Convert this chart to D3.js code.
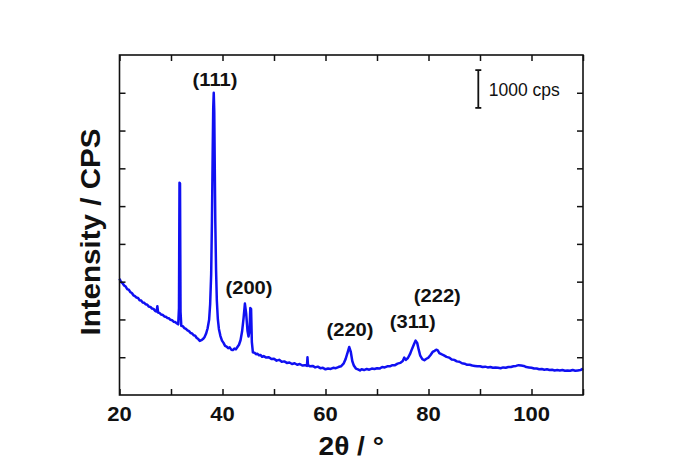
<!DOCTYPE html>
<html>
<head>
<meta charset="utf-8">
<script src="https://cdn.jsdelivr.net/npm/d3@7"></script>
<style>
  html, body { margin: 0; padding: 0; background: #fff; }
  svg { display: block; font-family: "Liberation Sans", Arial, sans-serif; }
</style>
</head>
<body>
<svg id="chart" width="679" height="473"></svg>
<script>
// ---- data ----
const twoTheta = [
 20.0,20.3,20.6,20.9,21.2,21.5,21.8,22.1,22.4,22.7,23.0,23.3,23.6,23.9,24.2,24.5,24.8,25.1,25.4,25.7,
 26.0,26.3,26.6,26.9,27.2,27.35,27.5,27.8,28.1,28.4,28.7,29.0,29.3,29.6,29.9,30.2,30.5,30.8,31.1,31.4,
 31.55,31.65,31.75,31.85,32.0,32.3,32.6,32.9,33.2,33.5,33.8,34.1,34.4,34.7,35.0,35.3,35.6,35.9,36.2,36.5,
 36.8,37.1,37.4,37.6,37.8,37.95,38.1,38.2,38.3,38.4,38.5,38.6,38.75,38.9,39.1,39.3,39.6,39.9,40.2,40.5,
 40.8,41.1,41.4,41.7,42.0,42.3,42.6,42.9,43.2,43.5,43.8,44.1,44.35,44.6,44.85,45.05,45.25,45.4,45.55,45.7,
 45.9,46.2,46.5,46.8,47.1,47.4,47.7,48.0,48.5,49.0,49.5,50.0,50.5,51.0,51.5,52.0,52.5,53.0,53.5,54.0,
 54.5,55.0,55.5,56.0,56.4,56.5,56.6,57.0,57.5,58.0,58.5,59.0,59.5,60.0,60.5,61.0,61.5,62.0,62.5,63.0,
 63.5,63.9,64.3,64.6,64.9,65.2,65.5,65.9,66.3,66.7,67.0,67.5,68.0,68.5,69.0,69.5,70.0,70.5,71.0,71.5,
 72.0,72.5,73.0,73.5,74.0,74.5,75.0,75.3,75.6,76.0,76.4,76.8,77.2,77.5,77.8,78.1,78.4,78.8,79.2,79.6,
 80.0,80.4,80.8,81.2,81.5,81.8,82.1,82.5,83.0,83.5,84.0,84.5,85.0,85.5,86.0,86.5,87.0,87.5,88.0,88.5,
 89.0,89.5,90.0,90.5,91.0,91.5,92.0,92.5,93.0,93.5,94.0,94.5,95.0,95.5,96.0,96.5,97.0,97.5,98.0,98.5,
 99.0,99.5,100.0,100.5,101.0,101.5,102.0,102.5,103.0,103.5,104.0,104.5,105.0,105.5,106.0,106.5,107.0,107.5,108.0,108.5,
 109.0,109.5,110.0
];
const intensity = [
 3080,2990,2960,2900,2870,2800,2790,2720,2700,2640,2620,2580,2570,2510,2500,2450,2440,2400,2390,2340,
 2330,2290,2280,2230,2210,2350,2180,2170,2130,2120,2080,2070,2040,2030,1990,1980,1940,1930,1900,1870,
 2300,5620,5600,2200,1830,1820,1770,1750,1710,1690,1640,1630,1580,1570,1510,1480,1430,1450,1480,1530,
 1620,1760,1990,2400,3200,4600,6500,7600,8000,7500,6000,4600,3300,2500,2000,1750,1560,1440,1380,1300,
 1280,1240,1260,1200,1190,1230,1210,1270,1330,1450,1680,2050,2420,2150,1700,1550,1700,2300,2280,1400,
 1130,1120,1080,1090,1050,1060,1010,1030,990,1000,950,960,910,930,880,890,850,860,820,840,
 800,820,780,790,770,1000,790,760,770,730,750,710,720,680,700,690,720,710,740,760,
 830,950,1130,1270,1150,900,780,700,680,650,680,660,690,670,700,690,710,700,740,730,
 760,760,790,790,830,850,900,990,930,980,1080,1220,1350,1440,1380,1200,1040,950,920,960,
 990,1060,1140,1170,1200,1180,1110,1080,1050,1010,990,940,930,890,880,840,830,800,800,780,
 770,760,760,740,750,730,740,720,730,720,710,730,720,740,740,760,770,790,780,770,
 740,730,720,700,700,680,690,670,680,660,670,650,660,650,660,640,650,640,660,640,
 650,660,700
];
const xTicks = [20,30,40,50,60,70,80,90,100,110];
const xTickLabels = [20,40,60,80,100];
const yTicks = [1000,2000,3000,4000,5000,6000,7000,8000];
const peakLabels = ["(111)","(200)","(220)","(311)","(222)"];
const peakLabelX = [38.55,45.15,64.76,76.93,81.71];
const peakLabelY = [8180,2673,1562,1773,2462];
const scaleBarValue = 1000;
const scaleBarText = "1000 cps";

// ---- layout ----
const L = 119.5, R = 583, T = 55, B = 395;
const svg = d3.select("#chart");
const x = d3.scaleLinear().domain([20,110]).range([L,R]);
const y = d3.scaleLinear().domain([0,9000]).range([B,T]);
const ink = "#111";
const blue = "#1010f2";

// curve
const pts = twoTheta.map((t,i)=>[t,intensity[i]]);
svg.append("path")
  .datum(pts)
  .attr("fill","none")
  .attr("stroke",blue)
  .attr("stroke-width",2.5)
  .attr("stroke-linejoin","round")
  .attr("d", d3.line().x(d=>x(d[0])).y(d=>y(d[1])));

// axes (inward ticks, no labels)
function styleAxis(g){
  g.select(".domain").remove();
  g.selectAll("line").attr("stroke",ink).attr("stroke-width",1.5);
}
svg.append("g").attr("transform",`translate(0,${B})`)
  .call(d3.axisBottom(x).tickValues(xTicks).tickSize(-6).tickFormat("")).call(styleAxis);
svg.append("g").attr("transform",`translate(0,${T})`)
  .call(d3.axisTop(x).tickValues(xTicks).tickSize(-6).tickFormat("")).call(styleAxis);
svg.append("g").attr("transform",`translate(${L},0)`)
  .call(d3.axisLeft(y).tickValues(yTicks).tickSize(-6).tickFormat("")).call(styleAxis);
svg.append("g").attr("transform",`translate(${R},0)`)
  .call(d3.axisRight(y).tickValues(yTicks).tickSize(-6).tickFormat("")).call(styleAxis);

// frame
svg.append("rect").attr("x",L).attr("y",T).attr("width",R-L).attr("height",B-T)
  .attr("fill","none").attr("stroke",ink).attr("stroke-width",1.6);

// x tick labels
svg.append("g").selectAll("text").data(xTickLabels).join("text")
  .attr("transform", d=>`translate(${x(d)},421) scale(1.13,1)`)
  .attr("text-anchor","middle")
  .attr("font-size",19.5).attr("font-weight","bold").attr("fill",ink)
  .text(d=>d);

// axis titles
svg.append("text")
  .attr("transform",`translate(${(L+R)/2},455) scale(1.08,1)`)
  .attr("text-anchor","middle").attr("font-size",26).attr("font-weight","bold").attr("fill",ink)
  .text("2θ / °");
svg.append("text")
  .attr("transform",`translate(100,232) rotate(-90)`)
  .attr("text-anchor","middle").attr("font-size",28).attr("font-weight","bold").attr("fill",ink)
  .attr("textLength",207).attr("lengthAdjust","spacingAndGlyphs")
  .text("Intensity / CPS");

// peak labels
svg.append("g").selectAll("text").data(peakLabels).join("text")
  .attr("transform",(d,i)=>`translate(${x(peakLabelX[i])},${y(peakLabelY[i])}) scale(1.12,1)`)
  .attr("text-anchor","middle").attr("font-size",18).attr("font-weight","bold").attr("fill",ink)
  .text(d=>d);

// scale bar
const sbx = x(89.67), sbTop = y(8600), sbBot = y(8600 - scaleBarValue);
const sb = svg.append("g").attr("stroke",ink).attr("stroke-width",1.8);
sb.append("line").attr("x1",sbx).attr("x2",sbx).attr("y1",sbTop).attr("y2",sbBot);
sb.append("line").attr("x1",sbx-3).attr("x2",sbx+3).attr("y1",sbTop).attr("y2",sbTop);
sb.append("line").attr("x1",sbx-3).attr("x2",sbx+3).attr("y1",sbBot).attr("y2",sbBot);
svg.append("text").attr("x",sbx+10.5).attr("y",95.7)
  .attr("font-size",17.5).attr("fill",ink).text(scaleBarText);
</script>
</body>
</html>
